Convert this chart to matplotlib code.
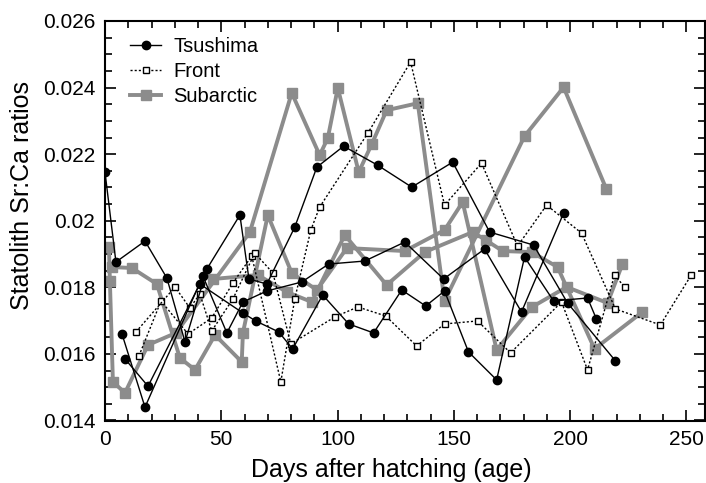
import matplotlib
matplotlib.use("Agg")
import matplotlib.pyplot as plt
from matplotlib.ticker import MultipleLocator, FuncFormatter

plt.rcParams['font.family'] = ['Liberation Sans', 'DejaVu Sans']

# Tsushima - three individuals (days after hatching, Sr:Ca)
tsu_days = [
    [0, 4.7, 17.2, 26.6, 34.4, 43.8, 58, 61.9, 69.6, 81.6, 91.1, 102.6, 117.2, 131.9, 149.5, 165.4, 184.3, 198.9, 219.5],
    [7.3, 17.2, 42.1, 52.4, 59.3, 69.6, 84.6, 96.2, 111.7, 128.9, 145.6, 163.2, 179.1, 197.2],
    [8.6, 18.5, 40.8, 59.3, 64.8, 74.7, 80.7, 93.6, 104.8, 115.5, 127.6, 137.9, 146, 156.3, 168.4, 180.4, 192.9, 207.5, 211.3],
]
tsu_vals = [
    [0.02146, 0.01876, 0.01939, 0.01828, 0.01636, 0.01855, 0.02017, 0.01825, 0.0181, 0.01981, 0.02161, 0.02224, 0.02167, 0.02101, 0.02176, 0.01966, 0.01927, 0.01753, 0.01579],
    [0.0166, 0.0144, 0.01834, 0.01663, 0.01756, 0.01789, 0.01816, 0.0187, 0.01879, 0.01936, 0.01825, 0.01915, 0.01726, 0.02023],
    [0.01585, 0.01503, 0.0181, 0.01723, 0.01699, 0.01666, 0.01615, 0.01777, 0.0169, 0.01663, 0.01792, 0.01744, 0.01789, 0.01606, 0.01522, 0.01891, 0.01759, 0.01768, 0.01705],
]

# Front - two individuals
fro_days = [
    [14.6, 24.1, 35.7, 45.9, 55, 63.1, 75.6, 81.6, 88.5, 92.3, 113, 131.4, 146, 161.9, 177.4, 189.9, 204.9, 219.5, 238.8, 252.1],
    [13.3, 30.1, 36.5, 40.8, 45.9, 55, 64.4, 72.2, 79.9, 98.8, 108.7, 120.7, 134, 146, 160.2, 174.4, 196.3, 207.5, 219.1, 223.4],
]
fro_vals = [
    [0.01594, 0.01759, 0.0166, 0.01708, 0.01813, 0.01894, 0.01516, 0.01765, 0.01972, 0.02041, 0.02263, 0.02477, 0.02047, 0.02173, 0.01924, 0.02047, 0.01963, 0.01735, 0.01687, 0.01837],
    [0.01666, 0.01801, 0.01738, 0.0178, 0.01669, 0.01765, 0.01903, 0.01843, 0.0163, 0.01711, 0.01741, 0.01714, 0.01624, 0.0169, 0.01699, 0.01603, 0.01756, 0.01552, 0.01837, 0.01801],
]

# Subarctic - three individuals
sub_days = [
    [1.7, 2.1, 3.4, 8.6, 18.5, 30.5, 62.3, 80.3, 92.3, 95.8, 100.1, 109.1, 114.7, 121.1, 134.5, 146, 180.4, 197.2, 215.6],
    [3, 11.6, 22.3, 32.2, 38.7, 47.3, 58.8, 59.3, 70, 80.3, 91.1, 104, 128.9, 146, 153.8, 168.4, 183.4, 198.5, 216.1, 222.5],
    [46.4, 65.7, 78.2, 88.9, 103.1, 121.1, 137.5, 158.1, 163.7, 171, 183.4, 194.6, 210.5, 231.1],
]
sub_vals = [
    [0.01921, 0.01819, 0.01516, 0.01483, 0.01627, 0.01663, 0.01966, 0.02384, 0.02197, 0.02248, 0.02399, 0.02146, 0.0223, 0.02332, 0.02353, 0.01759, 0.02254, 0.02401, 0.02095],
    [0.01861, 0.01858, 0.0181, 0.01588, 0.01552, 0.01657, 0.01576, 0.01663, 0.02017, 0.01843, 0.01792, 0.01918, 0.01909, 0.01972, 0.02056, 0.01612, 0.0174, 0.01801, 0.01753, 0.0187],
    [0.01825, 0.01837, 0.01786, 0.01756, 0.01957, 0.01807, 0.01906, 0.01966, 0.01942, 0.01909, 0.01906, 0.01861, 0.01615, 0.01726],
]

gray = '#8c8c8c'

fig = plt.figure(figsize=(7.06, 4.83), dpi=100)
ax = fig.add_axes([105 / 706, 1 - 420.5 / 483, 600 / 706, 399.5 / 483])

for i in range(len(sub_days)):
    ax.plot(sub_days[i], sub_vals[i], color=gray, lw=2.8, marker='s', ms=7,
            mfc=gray, mec=gray, label='Subarctic' if i == 0 else None, zorder=2)
for i in range(len(fro_days)):
    ax.plot(fro_days[i], fro_vals[i], color='k', lw=1.0, ls=(0, (1.5, 1.5)), marker='s', ms=5,
            mfc='white', mec='k', mew=1.0, label='Front' if i == 0 else None, zorder=3)
for i in range(len(tsu_days)):
    ax.plot(tsu_days[i], tsu_vals[i], color='k', lw=1.0, marker='o', ms=6,
            label='Tsushima' if i == 0 else None, zorder=4)

ax.set_xlim(0, 258)
ax.set_ylim(0.014, 0.026)
ax.xaxis.set_major_locator(MultipleLocator(50))
ax.xaxis.set_minor_locator(MultipleLocator(10))
ax.yaxis.set_major_locator(MultipleLocator(0.002))
ax.yaxis.set_minor_locator(MultipleLocator(0.0005))
ax.yaxis.set_major_formatter(FuncFormatter(lambda v, p: '%g' % round(v, 4)))
ax.tick_params(which='both', direction='in', top=True, right=True, labelsize=15, width=1.2, pad=7)
ax.tick_params(which='major', length=8)
ax.tick_params(which='minor', length=5)
for sp in ax.spines.values():
    sp.set_linewidth(1.5)

ax.set_xlabel('Days after hatching (age)', fontsize=18, labelpad=6)
ax.xaxis.set_label_coords(0.4775, -0.095)
ax.set_ylabel('Statolith Sr:Ca ratios', fontsize=18)
ax.yaxis.set_label_coords(-0.118, 0.562)

h, l = ax.get_legend_handles_labels()
order = [l.index('Tsushima'), l.index('Front'), l.index('Subarctic')]
ax.legend([h[k] for k in order], [l[k] for k in order], loc='upper left',
          bbox_to_anchor=(0.025, 0.985), frameon=False, fontsize=14.5,
          handlelength=1.55, labelspacing=0.3, borderpad=0, handletextpad=0.6)

fig.savefig('out.png', dpi=100)
